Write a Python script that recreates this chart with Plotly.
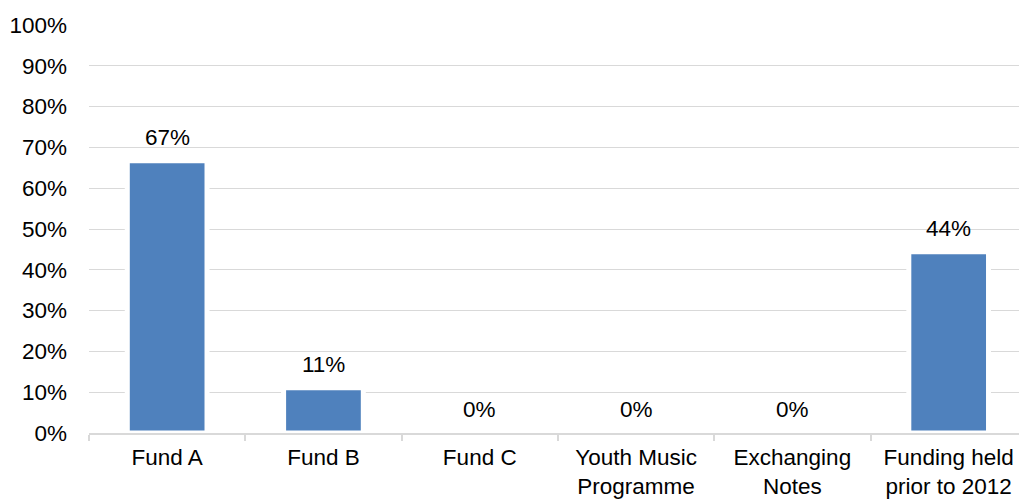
import plotly.graph_objects as go

categories = ["Fund A", "Fund B", "Fund C", "Youth Music<br>Programme",
              "Exchanging<br>Notes", "Funding held<br>prior to 2012"]
values = [66.7, 11.1, 0, 0, 0, 44.4]
y_ticks = list(range(0, 101, 10))
y_tick_labels = [f"{v}%" for v in y_ticks]

FONT = "Liberation Sans, Arial, sans-serif"
FS = 22.5

fig = go.Figure()
fig.add_trace(go.Bar(
    x=categories, y=values,
    marker=dict(color="#4F81BD", line=dict(color="#FFFFFF", width=5)),
    width=0.51,
    hoverinfo="skip",
))

for c, v in zip(categories, values):
    fig.add_annotation(x=c, y=v, text=f"{round(v)}%", showarrow=False,
                       yanchor="bottom", yshift=9,
                       font=dict(family=FONT, size=FS, color="#000000"))

fig.update_layout(
    width=1019, height=500,
    margin=dict(l=89, r=0, t=25, b=67),
    paper_bgcolor="#FFFFFF", plot_bgcolor="#FFFFFF",
    showlegend=False,
    font=dict(family=FONT, size=FS, color="#000000"),
    xaxis=dict(
        range=[-0.5, 5.45],
        showline=True, linecolor="#D9D9D9", linewidth=1.5,
        ticks="outside", tickson="boundaries", ticklen=6, tickcolor="#D9D9D9",
        tickwidth=1.5, showgrid=False, ticklabelstandoff=3,
        tickfont=dict(family=FONT, size=FS, color="#000000"),
    ),
    yaxis=dict(
        range=[0, 100], tickvals=y_ticks, ticktext=y_tick_labels,
        showgrid=True, gridcolor="#D9D9D9", gridwidth=1.3,
        zeroline=False, showline=False, ticks="",
        ticklabelstandoff=21,
        tickfont=dict(family=FONT, size=FS, color="#000000"),
    ),
)

fig.write_html("out.html")
